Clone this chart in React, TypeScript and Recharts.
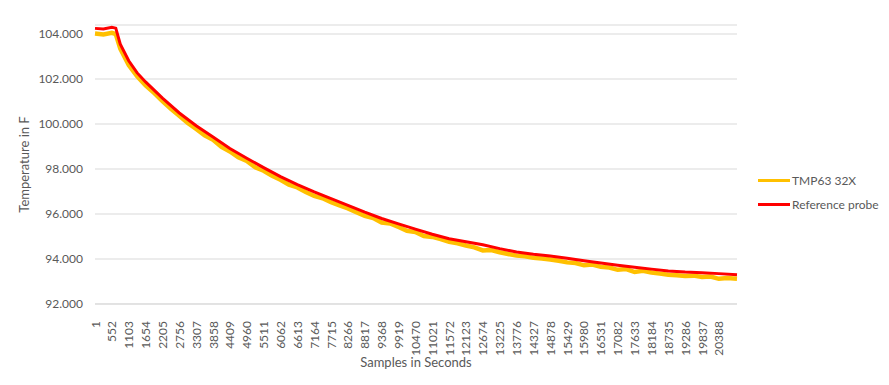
import { LineChart, Line, XAxis, YAxis, CartesianGrid } from 'recharts'

const SAMPLE_TICKS = [
  1, 552, 1103, 1654, 2205, 2756, 3307, 3858, 4409, 4960, 5511, 6062, 6613,
  7164, 7715, 8266, 8817, 9368, 9919, 10470, 11021, 11572, 12123, 12674, 13225,
  13776, 14327, 14878, 15429, 15980, 16531, 17082, 17633, 18184, 18735, 19286,
  19837, 20388,
]
const TEMP_TICKS = [92, 94, 96, 98, 100, 102, 104]

const REF_SAMPLES = [
  1, 276, 552, 680, 827, 1103, 1379, 1654, 2205, 2756, 3307, 3858, 4409, 4960,
  5511, 6062, 6613, 7164, 7715, 8266, 8817, 9368, 9919, 10470, 11021, 11572,
  12123, 12674, 13225, 13776, 14327, 14878, 15429, 15980, 16531, 17082, 17633,
  18184, 18735, 19286, 19837, 20388, 20980,
]
const REF_TEMPS = [
  104.25, 104.22, 104.3, 104.26, 103.55, 102.81, 102.27, 101.87, 101.15, 100.49,
  99.92, 99.42, 98.91, 98.48, 98.06, 97.66, 97.31, 96.98, 96.68, 96.38, 96.08,
  95.8, 95.56, 95.33, 95.1, 94.9, 94.77, 94.63, 94.46, 94.31, 94.21, 94.13,
  94.03, 93.92, 93.82, 93.72, 93.63, 93.55, 93.47, 93.42, 93.39, 93.35, 93.3,
]

const TMP_SAMPLES = [
  1, 276, 552, 680, 827, 1103, 1379, 1654, 1930, 2205, 2481, 2756, 3032, 3307,
  3583, 3858, 4134, 4409, 4685, 4960, 5236, 5511, 5787, 6062, 6338, 6613, 6889,
  7164, 7440, 7715, 7991, 8266, 8542, 8817, 9093, 9368, 9644, 9919, 10195,
  10470, 10746, 11021, 11297, 11572, 11848, 12123, 12399, 12674, 12950, 13225,
  13501, 13776, 14052, 14327, 14603, 14878, 15154, 15429, 15705, 15980, 16256,
  16531, 16807, 17082, 17358, 17633, 17909, 18184, 18460, 18735, 19011, 19286,
  19562, 19837, 20113, 20388, 20664, 20980,
]
const TMP_TEMPS = [
  104.02, 103.98, 104.05, 104.0, 103.35, 102.62, 102.12, 101.72, 101.38, 101.02,
  100.68, 100.36, 100.05, 99.78, 99.5, 99.3, 98.98, 98.78, 98.52, 98.36, 98.08,
  97.92, 97.7, 97.52, 97.3, 97.18, 96.98, 96.8, 96.7, 96.52, 96.38, 96.25,
  96.08, 95.92, 95.82, 95.62, 95.58, 95.42, 95.25, 95.2, 95.02, 94.98, 94.88,
  94.76, 94.7, 94.6, 94.52, 94.38, 94.4, 94.3, 94.22, 94.15, 94.12, 94.05,
  94.02, 93.98, 93.92, 93.85, 93.82, 93.72, 93.75, 93.65, 93.62, 93.52, 93.55,
  93.42, 93.48, 93.4, 93.35, 93.3, 93.28, 93.25, 93.26, 93.2, 93.22, 93.12,
  93.15, 93.12,
]

const SERIES = [
  { name: 'TMP63 32X', color: '#FFC000' },
  { name: 'Reference probe', color: '#FF0000' },
]

const refData = REF_SAMPLES.map((sample, i) => ({ sample, temp: REF_TEMPS[i] }))
const tmpData = TMP_SAMPLES.map((sample, i) => ({ sample, temp: TMP_TEMPS[i] }))

const FONT = 'Lato, "Open Sans", sans-serif'
const TEXT = '#595959'

function SampleTick({ x, y, payload }: any) {
  return (
    <text
      x={x}
      y={y + 9}
      transform={`rotate(-90, ${x}, ${y + 9})`}
      textAnchor="end"
      dominantBaseline="central"
      fontSize={12}
      fontFamily={FONT}
      fill={TEXT}
    >
      {payload.value}
    </text>
  )
}

export default function App() {
  return (
    <div style={{ position: 'absolute', left: 0, top: 0, width: 889, height: 385, background: '#fff' }}>
      <LineChart width={889} height={385} margin={{ top: 25, right: 152, left: 20, bottom: 17 }}>
        <CartesianGrid stroke="#D9D9D9" vertical={false} />
        <XAxis
          type="number"
          dataKey="sample"
          domain={[1, 20980]}
          ticks={SAMPLE_TICKS}
          interval={0}
          tick={<SampleTick />}
          tickLine={false}
          axisLine={{ stroke: '#D9D9D9' }}
          height={64}
          label={{ value: 'Samples in Seconds', position: 'insideBottom', offset: 1, fill: TEXT, fontSize: 13, fontFamily: FONT }}
        />
        <YAxis
          domain={[92, 104.4]}
          ticks={TEMP_TICKS}
          allowDataOverflow
          width={75}
          tickLine={false}
          axisLine={false}
          tickSize={10}
          tickFormatter={(v) => v.toFixed(3)}
          tick={{ fontSize: 12, fill: TEXT, fontFamily: FONT }}
          label={{ value: 'Temperature in F', angle: -90, position: 'insideLeft', offset: 4, style: { textAnchor: 'middle' }, fill: TEXT, fontSize: 13, fontFamily: FONT }}
        />
        <Line
          data={tmpData}
          dataKey="temp"
          name={SERIES[0].name}
          stroke={SERIES[0].color}
          strokeWidth={4.5}
          dot={false}
          type="linear"
          isAnimationActive={false}
        />
        <Line
          data={refData}
          dataKey="temp"
          name={SERIES[1].name}
          stroke={SERIES[1].color}
          strokeWidth={3}
          dot={false}
          type="linear"
          isAnimationActive={false}
        />
      </LineChart>
      <div style={{ position: 'absolute', left: 758, top: 168, fontFamily: FONT, fontSize: 12, color: TEXT }}>
        {SERIES.map((s) => (
          <div key={s.name} style={{ display: 'flex', alignItems: 'center', height: 24 }}>
            <span style={{ display: 'inline-block', width: 32, height: 3, background: s.color, marginRight: 2 }} />
            {s.name}
          </div>
        ))}
      </div>
    </div>
  )
}
